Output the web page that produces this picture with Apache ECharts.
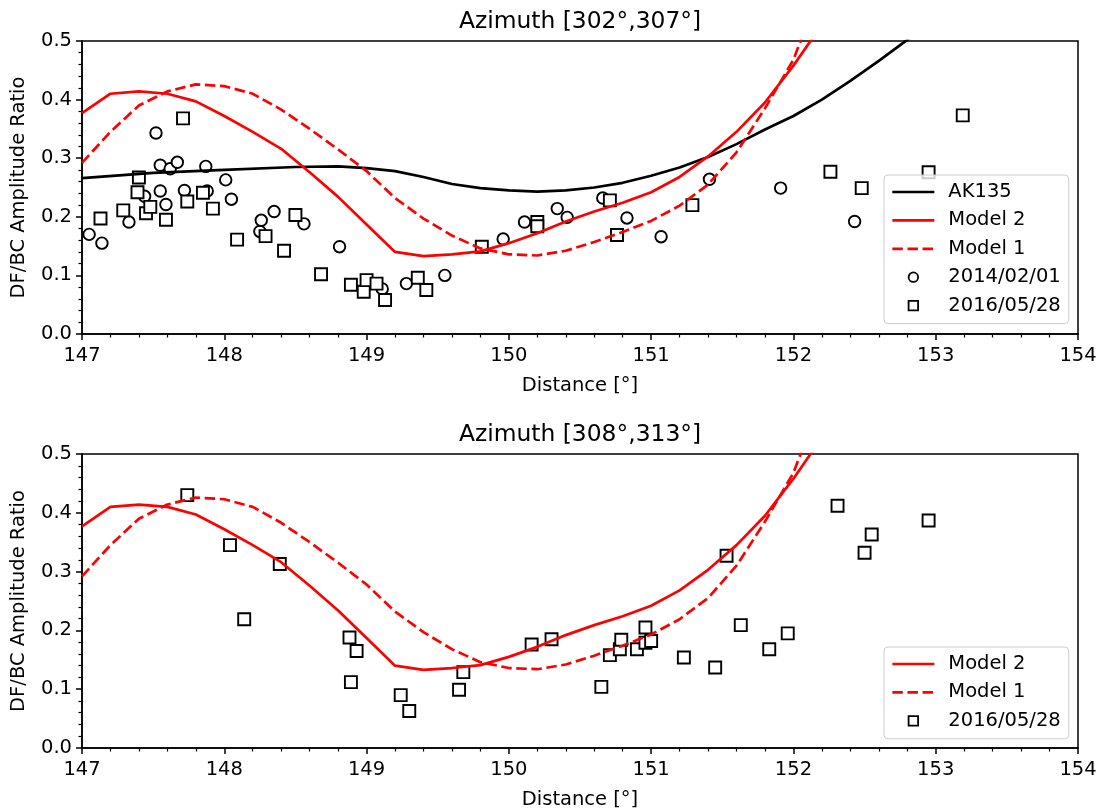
<!DOCTYPE html>
<html><head><meta charset="utf-8">
<script src="https://cdn.jsdelivr.net/npm/echarts@6/dist/echarts.min.js"></script>
<style>html,body{margin:0;padding:0;background:#fff}#c{width:1104px;height:812px}</style>
</head><body><div id="c"></div><script>
// ---- data ----
const titles = ['Azimuth [302°,307°]', 'Azimuth [308°,313°]'];
const xTickMin = 147, xTickMax = 154;
const yTickMin = 0, yTickMax = 0.5;

// model curves (same in both panels)
const modelDist = [147.0,147.2,147.4,147.6,147.8,148.0,148.2,148.4,148.6,148.8,149.0,149.2,149.4,149.6,149.8,150.0,150.2,150.4,150.6,150.8,151.0,151.2,151.4,151.6,151.8,152.0,152.2];
const model2 = [0.377,0.410,0.414,0.410,0.397,0.372,0.345,0.316,0.276,0.234,0.187,0.140,0.133,0.136,0.141,0.155,0.172,0.192,0.209,0.224,0.242,0.268,0.303,0.345,0.395,0.458,0.528];
const model1 = [0.292,0.345,0.390,0.414,0.426,0.423,0.410,0.383,0.350,0.315,0.278,0.232,0.197,0.168,0.146,0.136,0.134,0.142,0.157,0.174,0.193,0.219,0.255,0.310,0.385,0.468,0.596];

// AK135 reference (top panel)
const akDist = [147.0,147.5,148.0,148.5,148.8,149.0,149.2,149.4,149.6,149.8,150.0,150.2,150.4,150.6,150.8,151.0,151.2,151.4,151.6,151.8,152.0,152.2,152.4,152.6,152.8,153.0];
const akVal  = [0.266,0.275,0.280,0.285,0.286,0.283,0.278,0.268,0.256,0.249,0.245,0.243,0.245,0.250,0.258,0.270,0.284,0.302,0.324,0.349,0.372,0.400,0.432,0.466,0.502,0.540];

// observations, top panel: 2014/02/01 (circles)
const obs2014X = [147.05,147.14,147.33,147.44,147.52,147.55,147.55,147.59,147.62,147.67,147.72,147.87,147.88,148.01,148.05,148.25,148.26,148.35,148.56,148.81,149.11,149.28,149.55,149.96,150.11,150.34,150.41,150.66,150.83,151.07,151.41,151.91,152.43];
const obs2014Y = [0.170,0.155,0.191,0.235,0.343,0.288,0.244,0.221,0.282,0.293,0.245,0.286,0.244,0.263,0.230,0.175,0.194,0.209,0.188,0.149,0.077,0.086,0.100,0.162,0.191,0.214,0.199,0.232,0.198,0.166,0.264,0.249,0.192];

// observations, top panel: 2016/05/28 (squares)
const obs2016TopX = [147.13,147.29,147.39,147.40,147.45,147.48,147.59,147.71,147.74,147.85,147.92,148.09,148.29,148.42,148.50,148.68,148.89,148.98,149.00,149.07,149.13,149.36,149.42,149.81,150.20,150.20,150.71,150.76,151.29,152.26,152.48,152.95,153.19];
const obs2016TopY = [0.197,0.211,0.242,0.267,0.206,0.217,0.195,0.368,0.226,0.241,0.214,0.161,0.167,0.142,0.203,0.102,0.084,0.072,0.092,0.086,0.058,0.096,0.075,0.149,0.191,0.184,0.228,0.169,0.220,0.277,0.249,0.276,0.373];

// observations, bottom panel: 2016/05/28 (squares)
const obs2016BotX = [147.74,148.04,148.14,148.39,148.88,148.89,148.93,149.24,149.30,149.65,149.68,150.16,150.30,150.65,150.71,150.78,150.79,150.90,150.96,150.96,151.00,151.23,151.45,151.53,151.63,151.83,151.96,152.31,152.50,152.55,152.95];
const obs2016BotY = [0.430,0.345,0.219,0.313,0.188,0.112,0.165,0.090,0.063,0.099,0.129,0.176,0.185,0.104,0.158,0.168,0.184,0.168,0.205,0.179,0.182,0.154,0.137,0.327,0.209,0.168,0.195,0.412,0.332,0.363,0.387];

// ---- build ----
const zip = (a, b) => a.map((v, i) => [v, b[i]]);
const FONT = 'DejaVu Sans';
const FS = 19.5;
const RED = '#ff0000';

function xAxis(gi) {
  return {
    type: 'value', gridIndex: gi, min: xTickMin, max: xTickMax, interval: 1,
    name: 'Distance [°]', nameLocation: 'middle', nameGap: 42,
    nameTextStyle: { fontFamily: FONT, fontSize: FS, color: '#000' },
    axisLine: { show: true, onZero: false, lineStyle: { color: '#000', width: 1.5 } },
    axisTick: { show: true, inside: false, length: 6, lineStyle: { color: '#000', width: 1.5 } },
    minorTick: { show: true, splitNumber: 5, length: 3.5, lineStyle: { color: '#000', width: 1.2 } },
    axisLabel: { fontFamily: FONT, fontSize: FS, color: '#000', margin: 12 },
    splitLine: { show: false }, minorSplitLine: { show: false }
  };
}
function yAxis(gi) {
  return {
    type: 'value', gridIndex: gi, min: yTickMin, max: yTickMax, interval: 0.1,
    name: 'DF/BC Amplitude Ratio', nameLocation: 'middle', nameGap: 53,
    nameTextStyle: { fontFamily: FONT, fontSize: FS, color: '#000' },
    axisLine: { show: true, onZero: false, lineStyle: { color: '#000', width: 1.5 } },
    axisTick: { show: true, inside: false, length: 6, lineStyle: { color: '#000', width: 1.5 } },
    minorTick: { show: true, splitNumber: 5, length: 3.5, lineStyle: { color: '#000', width: 1.2 } },
    axisLabel: { fontFamily: FONT, fontSize: FS, color: '#000', margin: 10, formatter: v => v.toFixed(1) },
    splitLine: { show: false }, minorSplitLine: { show: false }
  };
}
function lineSeries(name, gi, xs, ys, color, dashed) {
  return {
    name, type: 'line', xAxisIndex: gi, yAxisIndex: gi, data: zip(xs, ys),
    symbol: 'none', showSymbol: false, clip: true, animation: false,
    lineStyle: { color, width: 2.7, type: dashed ? [10.5, 4.6] : 'solid' },
    itemStyle: { color }
  };
}
function scatterSeries(name, gi, xs, ys, symbol, size) {
  return {
    name, type: 'scatter', xAxisIndex: gi, yAxisIndex: gi, data: zip(xs, ys),
    symbol, symbolSize: size, animation: false,
    itemStyle: { color: '#ffffff', borderColor: '#000', borderWidth: 1.9, opacity: 1 }
  };
}
const mkItemStyle = { color: '#ffffff', borderColor: '#000', borderWidth: 1.8 };
const hideDot = { color: 'rgba(0,0,0,0)', borderColor: 'rgba(0,0,0,0)', borderWidth: 0, opacity: 0 };
const SQUARE = 'path://M0,0L10,0L10,10L0,10Z';
function legend(top, data) {
  return {
    left: 884, top, orient: 'vertical', selectedMode: false,
    padding: [7, 8, 8, 7], itemGap: 8.4, itemWidth: 42, itemHeight: 9.5,
    symbolKeepAspect: true,
    lineStyle: { width: 2.7 },
    backgroundColor: 'rgba(255,255,255,0.8)', borderColor: '#cccccc', borderWidth: 1, borderRadius: 4,
    textStyle: { fontFamily: FONT, fontSize: FS, color: '#000', lineHeight: 20, padding: [0, 0, 0, 9] },
    data
  };
}

const option = {
  backgroundColor: '#fff',
  animation: false,
  title: [
    { text: titles[0], left: 580, top: 10, padding: 0, textAlign: 'center',
      textStyle: { fontFamily: FONT, fontSize: 23.4, fontWeight: 'normal', color: '#000' } },
    { text: titles[1], left: 580, top: 423, padding: 0, textAlign: 'center',
      textStyle: { fontFamily: FONT, fontSize: 23.4, fontWeight: 'normal', color: '#000' } }
  ],
  grid: [
    { left: 82, top: 41, width: 996, height: 293, show: true, borderColor: '#000', borderWidth: 1.5, backgroundColor: 'transparent' },
    { left: 82, top: 454, width: 996, height: 294, show: true, borderColor: '#000', borderWidth: 1.5, backgroundColor: 'transparent' }
  ],
  xAxis: [xAxis(0), xAxis(1)],
  yAxis: [yAxis(0), yAxis(1)],
  legend: [
    legend(175, [
      { name: 'AK135', itemStyle: hideDot }, { name: 'Model 2', itemStyle: hideDot }, { name: 'Model 1', itemStyle: hideDot },
      { name: '2014/02/01', icon: 'circle', itemStyle: mkItemStyle },
      { name: '2016/05/28', icon: SQUARE, itemStyle: mkItemStyle }
    ]),
    legend(647, [
      { name: 'Model 2', itemStyle: hideDot }, { name: 'Model 1', itemStyle: hideDot },
      { name: '2016/05/28', icon: SQUARE, itemStyle: mkItemStyle }
    ])
  ],
  series: [
    lineSeries('AK135', 0, akDist, akVal, '#000', false),
    lineSeries('Model 2', 0, modelDist, model2, RED, false),
    lineSeries('Model 1', 0, modelDist, model1, RED, true),
    scatterSeries('2014/02/01', 0, obs2014X, obs2014Y, 'circle', 11.5),
    scatterSeries('2016/05/28', 0, obs2016TopX, obs2016TopY, 'rect', 12),
    lineSeries('Model 2', 1, modelDist, model2, RED, false),
    lineSeries('Model 1', 1, modelDist, model1, RED, true),
    scatterSeries('2016/05/28', 1, obs2016BotX, obs2016BotY, 'rect', 12)
  ]
};
const chart = echarts.init(document.getElementById('c'), null, { renderer: 'canvas' });
chart.setOption(option);
</script></body></html>
